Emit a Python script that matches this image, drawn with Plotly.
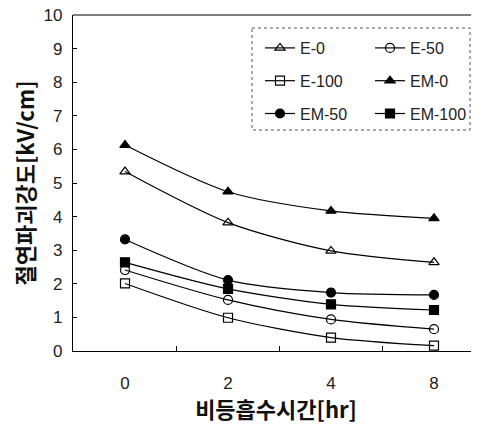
import plotly.graph_objects as go

x_labels = ["0", "2", "4", "8"]
y_ticks = list(range(0, 11))

series_names = ["E-0", "E-50", "E-100", "EM-0", "EM-50", "EM-100"]
e0 = [5.34, 3.82, 2.98, 2.64]
e50 = [2.41, 1.52, 0.94, 0.65]
e100 = [2.01, 0.99, 0.40, 0.16]
em0 = [6.13, 4.74, 4.17, 3.95]
em50 = [3.32, 2.11, 1.74, 1.67]
em100 = [2.64, 1.85, 1.39, 1.22]

values = [e0, e50, e100, em0, em50, em100]
symbols = ["triangle-up-open", "circle-open", "square-open", "triangle-up", "circle", "square"]
legend_ids = ["legend", "legend2", "legend", "legend2", "legend", "legend2"]

# page body has an 8px default margin; target pixel positions are given in
# viewport coordinates and converted to figure coordinates
OFF = 8
FIG_W, FIG_H = 479 - OFF, 430 - OFF
L, R, T, B = 73 - OFF, 479 - OFF, 15 - OFF, 351 - OFF
W, H = R - L, B - T


def px_x(p):
    return (p - OFF - L) / W


def px_y(p):
    return (B - (p - OFF)) / H


fig = go.Figure()
for name, vals, sym, lg in zip(series_names, values, symbols, legend_ids):
    fig.add_trace(go.Scatter(
        x=x_labels, y=vals, name=name, mode="lines+markers",
        legend=lg, legendgroup=name,
        line=dict(color="black", width=1.2, shape="spline", smoothing=0.8),
        marker=dict(symbol=sym, size=9, color="black", line=dict(color="black", width=1.2)),
    ))

leg_common = dict(
    orientation="v", xanchor="left", yanchor="top",
    bgcolor="rgba(0,0,0,0)", borderwidth=0,
    font=dict(size=16, color="#222"),
    itemwidth=30, tracegroupgap=9,
)

fig.update_layout(
    width=FIG_W, height=FIG_H,
    margin=dict(l=L, r=FIG_W - R, t=T, b=FIG_H - B, autoexpand=False),
    paper_bgcolor="white", plot_bgcolor="white",
    font=dict(family="Liberation Sans, Arial, sans-serif", color="#222", size=16),
    showlegend=True,
    legend=dict(x=px_x(260), y=px_y(31), **leg_common),
    legend2=dict(x=px_x(370), y=px_y(31), **leg_common),
)

fig.update_xaxes(
    type="category", range=[-0.505, 3.437], automargin=False,
    showline=True, linecolor="black", linewidth=1.2, mirror=False,
    showgrid=False, zeroline=False,
    ticks="inside", tickson="boundaries", ticklen=5, tickcolor="black",
    ticklabelstandoff=16, ticklabeloverflow="allow",
    tickfont=dict(size=17, color="#222"),
    title=dict(text="<b>비등흡수시간[hr]</b>", font=dict(family="Noto Sans CJK KR", size=22, color="#111"), standoff=10),
)
fig.update_yaxes(
    range=[0, 10], tickvals=y_ticks, automargin=False,
    showline=True, linecolor="black", linewidth=1.2, mirror=False,
    showgrid=False, zeroline=False,
    ticks="inside", ticklen=4, tickcolor="black",
    ticklabelstandoff=6, ticklabeloverflow="allow",
    tickfont=dict(size=17, color="#222"),
    title=dict(text="<b>절연파괴강도[kV/cm]</b>", font=dict(family="Noto Sans CJK KR", size=22, color="#111"), standoff=9),
)
fig.add_shape(type="line", xref="paper", yref="paper", x0=0, x1=1, y0=1, y1=1,
              line=dict(color="black", width=1.2))
fig.add_shape(type="rect", xref="paper", yref="paper", layer="above",
              x0=px_x(252), x1=px_x(470), y0=px_y(28), y1=px_y(130),
              fillcolor="white", line=dict(color="#555", width=1, dash="dot"))

fig.write_html("out.html")
